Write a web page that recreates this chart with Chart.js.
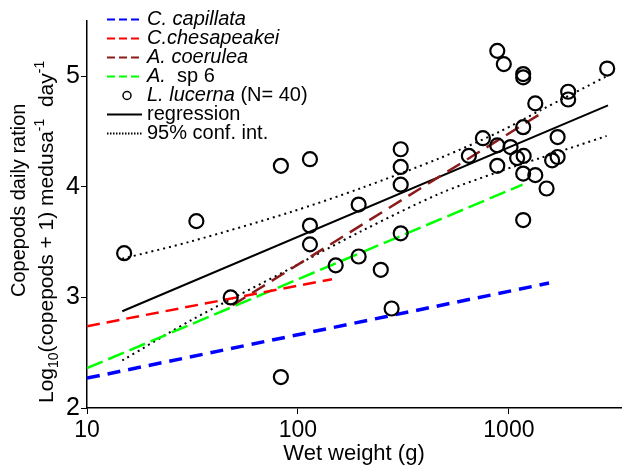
<!DOCTYPE html>
<html>
<head>
<meta charset="utf-8">
<script src="https://cdn.jsdelivr.net/npm/chart.js@4.4.0/dist/chart.umd.min.js"></script>
<style>
html, body { margin: 0; padding: 0; background: #fff; }
canvas { display: block; }
</style>
</head>
<body>
<canvas id="myChart" width="623" height="467"></canvas>
<script>
// L. lucerna observations
var wetWeight = [15, 33, 48, 83, 83, 114, 114, 114, 151, 194, 194, 247, 278, 307, 307, 307, 307,
    646, 753, 881, 946, 1169, 1169, 1334, 1910, 1910, 2924, 1169, 881, 1018, 881, 1094, 1175,
    1702, 1603, 1702, 1169, 1334, 1509, 1169];
var ration = [3.40, 3.69, 3.00, 4.19, 2.28, 4.25, 3.65, 3.48, 3.29, 3.84, 3.37, 3.25, 2.90, 4.34, 4.18, 4.02, 3.58,
    4.28, 4.44, 5.23, 5.11, 5.02, 4.99, 4.755, 4.86, 4.79, 5.07, 4.54, 4.375, 4.36, 4.19, 4.26, 4.28,
    4.45, 4.24, 4.27, 4.12, 4.106, 3.985, 3.70];

// fitted lines for other species (end points)
var capillataX = [10, 1550], capillataY = [2.27, 3.13];
var chesapeakeiX = [10, 145], chesapeakeiY = [2.74, 3.165];
var coeruleaX = [49, 1410], coeruleaY = [2.93, 4.66];
var sp6X = [10, 1160], sp6Y = [2.36, 4.02];

// regression and 95% confidence band
var regressionX = [14.7, 2950], regressionY = [2.875, 4.737];
var ciX = [14.7, 31.6, 91.6, 200, 471, 906, 1403, 2905];
var ciUpper = [3.35, 3.51, 3.77, 3.99, 4.26, 4.50, 4.69, 5.00];
var ciLower = [2.43, 2.80, 3.26, 3.60, 3.94, 4.14, 4.26, 4.46];

var xTicks = [10, 100, 1000];
var yTicks = [2, 3, 4, 5];

function pts(xs, ys) {
    return xs.map(function (x, i) { return { x: x, y: ys[i] }; });
}

var FONT = '"Liberation Sans", Arial, sans-serif';

// legend rows
var legendRows = [
    { color: '#0000ff', dash: [8, 4], kind: 'line', runs: [['C. capillata', true]] },
    { color: '#ff0000', dash: [8, 4], kind: 'line', runs: [['C.chesapeakei', true]] },
    { color: '#8b1a1a', dash: [8, 4], kind: 'line', runs: [['A. coerulea', true]] },
    { color: '#00ff00', dash: [8, 4], kind: 'line', runs: [['A.', true], ['  sp 6', false]] },
    { color: '#000', kind: 'circle', runs: [['L. lucerna', true], [' (N= 40)', false]] },
    { color: '#000', dash: [], kind: 'line', runs: [['regression', false]] },
    { color: '#000', dash: [1.5, 1.5], kind: 'line', runs: [['95% conf. int.', false]] }
];

var extras = {
    id: 'extras',
    afterDraw: function (chart) {
        var ctx = chart.ctx;
        ctx.save();
        ctx.fillStyle = '#000';
        ctx.textBaseline = 'middle';
        // legend
        legendRows.forEach(function (row, i) {
            var y = 19.5 + i * 19;
            if (row.kind === 'line') {
                ctx.beginPath();
                ctx.strokeStyle = row.color;
                ctx.lineWidth = 2;
                ctx.setLineDash(row.dash);
                ctx.moveTo(107, y);
                ctx.lineTo(142, y);
                ctx.stroke();
                ctx.setLineDash([]);
            } else {
                ctx.beginPath();
                ctx.strokeStyle = '#000';
                ctx.lineWidth = 1.5;
                ctx.arc(127, y, 4, 0, Math.PI * 2);
                ctx.stroke();
            }
            var x = 147;
            row.runs.forEach(function (r) {
                ctx.font = (r[1] ? 'italic ' : '') + '20px ' + FONT;
                ctx.fillText(r[0], x, y);
                x += ctx.measureText(r[0]).width;
            });
        });

        // y axis title, two rotated lines
        ctx.textBaseline = 'alphabetic';
        function rotated(px, py, runs) {
            ctx.save();
            ctx.translate(px, py);
            ctx.rotate(-Math.PI / 2);
            var x = 0;
            runs.forEach(function (r) {
                ctx.font = r[1] + 'px ' + FONT;
                ctx.fillText(r[0], x, r[2]);
                x += ctx.measureText(r[0]).width;
            });
            ctx.restore();
        }
        rotated(25, 297, [['Copepods daily ration', 20, 0]]);
        rotated(53, 403, [
            ['Log', 21, 0], ['10', 14, 5], ['(copepods + 1) medusa', 21, 0],
            ['-1', 14, -9], ['  day', 21, 0], ['-1', 14, -9]
        ]);
        ctx.restore();
    }
};

var ctx = document.getElementById('myChart').getContext('2d');
var myChart = new Chart(ctx, {
    type: 'scatter',
    data: {
        datasets: [
            {
                label: 'L. lucerna',
                data: pts(wetWeight, ration),
                pointRadius: 7,
                pointBorderWidth: 2.2,
                pointBorderColor: '#000',
                pointBackgroundColor: 'rgba(0,0,0,0)'
            },
            {
                label: 'C. capillata', data: pts(capillataX, capillataY), showLine: true,
                borderColor: '#0000ff', borderWidth: 3.5, borderDash: [13, 8], pointRadius: 0
            },
            {
                label: 'C.chesapeakei', data: pts(chesapeakeiX, chesapeakeiY), showLine: true,
                borderColor: '#ff0000', borderWidth: 2.5, borderDash: [13, 7], pointRadius: 0
            },
            {
                label: 'A. coerulea', data: pts(coeruleaX, coeruleaY), showLine: true,
                borderColor: '#8b1a1a', borderWidth: 2.5, borderDash: [15, 8], pointRadius: 0
            },
            {
                label: 'A. sp 6', data: pts(sp6X, sp6Y), showLine: true,
                borderColor: '#00ff00', borderWidth: 2.5, borderDash: [17, 6], pointRadius: 0
            },
            {
                label: 'regression', data: pts(regressionX, regressionY), showLine: true,
                borderColor: '#000', borderWidth: 2, pointRadius: 0
            },
            {
                label: 'upper', data: pts(ciX, ciUpper), showLine: true, tension: 0.3,
                borderColor: '#000', borderWidth: 2, borderDash: [2, 4], pointRadius: 0
            },
            {
                label: 'lower', data: pts(ciX, ciLower), showLine: true, tension: 0.3,
                borderColor: '#000', borderWidth: 2, borderDash: [2, 4], pointRadius: 0
            }
        ]
    },
    options: {
        responsive: false,
        animation: false,
        devicePixelRatio: 1,
        layout: { autoPadding: false, padding: { top: 21, right: 2, bottom: 0, left: 0 } },
        plugins: {
            legend: { display: false },
            tooltip: { enabled: false }
        },
        scales: {
            x: {
                type: 'logarithmic',
                min: 10,
                max: 3400,
                afterBuildTicks: function (scale) {
                    scale.ticks = xTicks.map(function (v) { return { value: v }; });
                },
                afterFit: function (scale) {
                    scale.height = 59;
                    scale.paddingLeft = 0;
                    scale.paddingRight = 0;
                },
                ticks: {
                    color: '#000',
                    font: { size: 23, family: FONT },
                    padding: 3,
                    maxRotation: 0,
                    callback: function (v) { return String(v); }
                },
                grid: { drawOnChartArea: false, drawTicks: true, tickLength: 6, color: '#000' },
                border: { display: true, color: '#000', width: 1.5 },
                title: {
                    display: true,
                    text: 'Wet weight (g)',
                    color: '#000',
                    font: { size: 22, family: FONT },
                    padding: { top: 0, bottom: 0 }
                }
            },
            y: {
                min: 2,
                max: 5.5,
                afterBuildTicks: function (scale) {
                    scale.ticks = yTicks.map(function (v) { return { value: v }; });
                },
                afterFit: function (scale) {
                    scale.width = 87;
                    scale.paddingTop = 0;
                    scale.paddingBottom = 0;
                },
                ticks: {
                    color: '#000',
                    font: { size: 25, family: FONT },
                    padding: 1
                },
                grid: { drawOnChartArea: false, drawTicks: true, tickLength: 6, color: '#000' },
                border: { display: true, color: '#000', width: 1.5 }
            }
        }
    },
    plugins: [extras]
});
</script>
</body>
</html>
